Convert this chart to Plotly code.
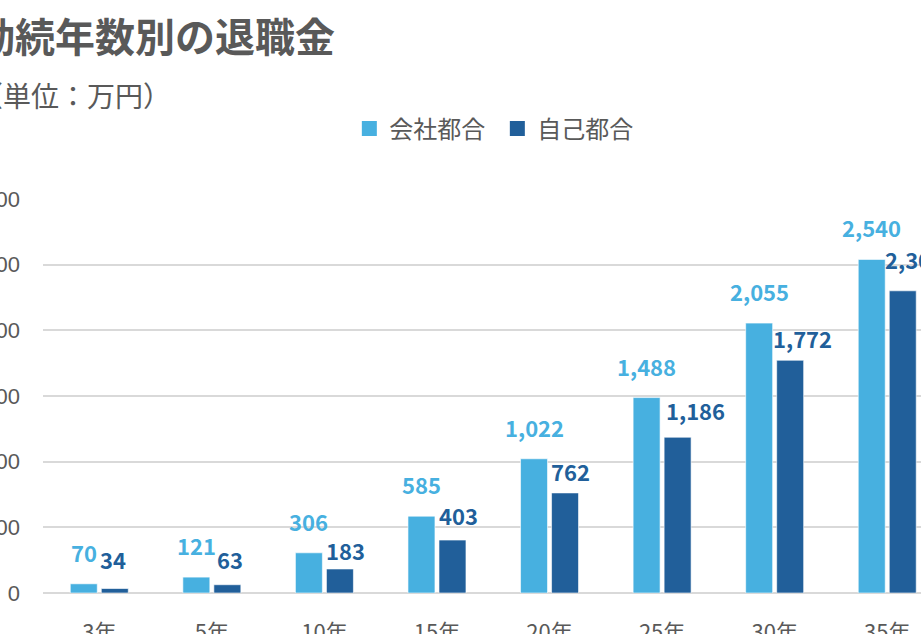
import plotly.graph_objects as go

categories = ["3年", "5年", "10年", "15年", "20年", "25年", "30年", "35年"]
company = [70, 121, 306, 585, 1022, 1488, 2055, 2540]
personal = [34, 63, 183, 403, 762, 1186, 1772, 2301]
series_names = ["会社都合", "自己都合"]
y_ticks = [0, 500, 1000, 1500, 2000, 2500, 3000]

# hand-placed label nudges (pixels) for the 自己都合 labels, as in the original
dark_label_dx = [-3, 1, -2, -2, -3, 0, -6, -6]
dark_label_dy = [12, 8, 1, 7, 4, 9, 4, 14]

LIGHT = "#47B0E0"
DARK = "#215F9A"
GRAY = "#595959"
FONT = "Noto Sans CJK JP"

BARGAP = 0.449
GROUPGAP = 0.13
slot = (1 - BARGAP) / 2

fig = go.Figure()
for vals, name, col in [(company, series_names[0], LIGHT), (personal, series_names[1], DARK)]:
    fig.add_trace(go.Bar(x=categories, y=vals, name=name, showlegend=False, hoverinfo="skip",
                         marker=dict(color=col, line=dict(color="rgba(255,255,255,0.6)", width=1))))
for name, col in [(series_names[0], LIGHT), (series_names[1], DARK)]:
    fig.add_trace(go.Scatter(x=[None], y=[None], mode="markers", name=name,
                             marker=dict(symbol="square", size=15, color=col)))

annotations = []
for i, v in enumerate(company):
    annotations.append(dict(x=i - slot / 2, y=v, xref="x", yref="y", text=f"{v:,}",
                            showarrow=False, yanchor="bottom", xanchor="center", yshift=14,
                            font=dict(family=FONT, size=22, color=LIGHT, weight="bold")))
for i, v in enumerate(personal):
    annotations.append(dict(x=i + slot * GROUPGAP / 2, y=v, xref="x", yref="y", text=f"{v:,}",
                            showarrow=False, yanchor="bottom", xanchor="left",
                            xshift=dark_label_dx[i], yshift=dark_label_dy[i],
                            font=dict(family=FONT, size=22, color=DARK, weight="bold")))

annotations.append(dict(x=0, y=1, xref="paper", yref="paper", text="勤続年数別の退職金",
                        showarrow=False, xanchor="left", yanchor="middle", xshift=-70, yshift=164,
                        font=dict(family=FONT, size=40, color=GRAY, weight="bold")))
annotations.append(dict(x=0, y=1, xref="paper", yref="paper", text="（単位：万円）",
                        showarrow=False, xanchor="left", yanchor="middle", xshift=-70, yshift=104,
                        font=dict(family=FONT, size=28, color=GRAY)))

fig.update_layout(
    width=921, height=634,
    margin=dict(l=43, r=0, t=199, b=41, autoexpand=False),
    paper_bgcolor="white", plot_bgcolor="white",
    barmode="group", bargap=BARGAP, bargroupgap=GROUPGAP,
    font=dict(family=FONT, color=GRAY),
    showlegend=True,
    legend=dict(orientation="h", x=0.540, xanchor="center", y=1 - 129 / 634, yanchor="middle",
                yref="container", xref="container", entrywidth=103, entrywidthmode="pixels",
                font=dict(family=FONT, size=24, color=GRAY)),
    annotations=annotations,
)
fig.update_xaxes(range=[-0.5, 7.3], showgrid=False, showline=False, ticks="", automargin=False,
                 tickfont=dict(family=FONT, size=22, color=GRAY), ticklabelstandoff=24)
fig.update_yaxes(range=[0, 3000], tickvals=y_ticks, tickformat=",", showgrid=True, automargin=False,
                 gridcolor="#D9D9D9", gridwidth=1.5, zeroline=True, zerolinecolor="#D9D9D9",
                 zerolinewidth=1.5, showline=False, ticks="",
                 tickfont=dict(family="Liberation Sans", size=22, color=GRAY), ticklabelstandoff=22)

fig.write_html("out.html", config={"displayModeBar": False},
               post_script="document.body.style.margin='0px';document.body.style.overflow='hidden';")
